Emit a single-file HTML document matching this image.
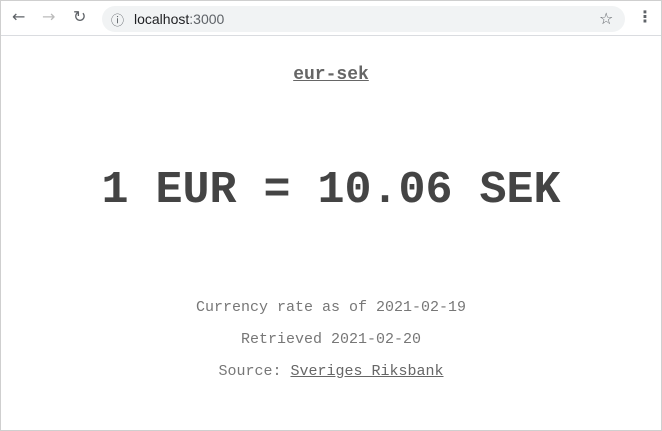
<!DOCTYPE html>
<html><head><meta charset="utf-8"><style>
*{margin:0;padding:0;box-sizing:border-box}
body{width:662px;height:431px;overflow:hidden;background:#fff;font-family:"Liberation Mono",monospace;position:relative;border:1px solid #cfcfcf}
#bar{position:absolute;left:0;top:0;width:660px;height:35px;background:#fff;border-bottom:1px solid #dadce0}
.ic{position:absolute;top:6px;font-family:"DejaVu Sans",sans-serif;font-size:16px;color:#5f6368}
#addr{position:absolute;left:101px;top:5px;width:523px;height:26px;border-radius:13px;background:#f1f3f4}
#url{position:absolute;left:32px;top:5px;font-family:"Liberation Sans",sans-serif;font-size:14px;color:#202124}
.t{position:absolute;left:0;width:660px;text-align:center;color:#666}
a{color:#666}
</style></head><body>
<div id="bar">
<span class="ic" style="left:11px">←</span>
<span class="ic" style="left:41px;color:#bbb">→</span>
<span class="ic" style="left:72px">↻</span>
<div id="addr">
<span class="ic" style="left:9px;top:4px;font-size:13px">ⓘ</span>
<span id="url">localhost<span style="color:#5f6368">:3000</span></span>
<span class="ic" style="left:497px;top:3px">☆</span>
</div>
<span class="ic" style="left:636px;font-weight:bold">⋮</span>
</div>
<div class="t" style="top:64px;font-size:18px;font-weight:bold"><a href="#">eur-sek</a></div>
<div class="t" style="top:164px;font-size:45px;font-weight:bold;color:#444">1 EUR = 10.06 SEK</div>
<div class="t" style="top:298px;font-size:15px;color:#777">Currency rate as of 2021-02-19</div>
<div class="t" style="top:330px;font-size:15px;color:#777">Retrieved 2021-02-20</div>
<div class="t" style="top:362px;font-size:15px;color:#777">Source: <a href="#">Sveriges Riksbank</a></div>
</body></html>
